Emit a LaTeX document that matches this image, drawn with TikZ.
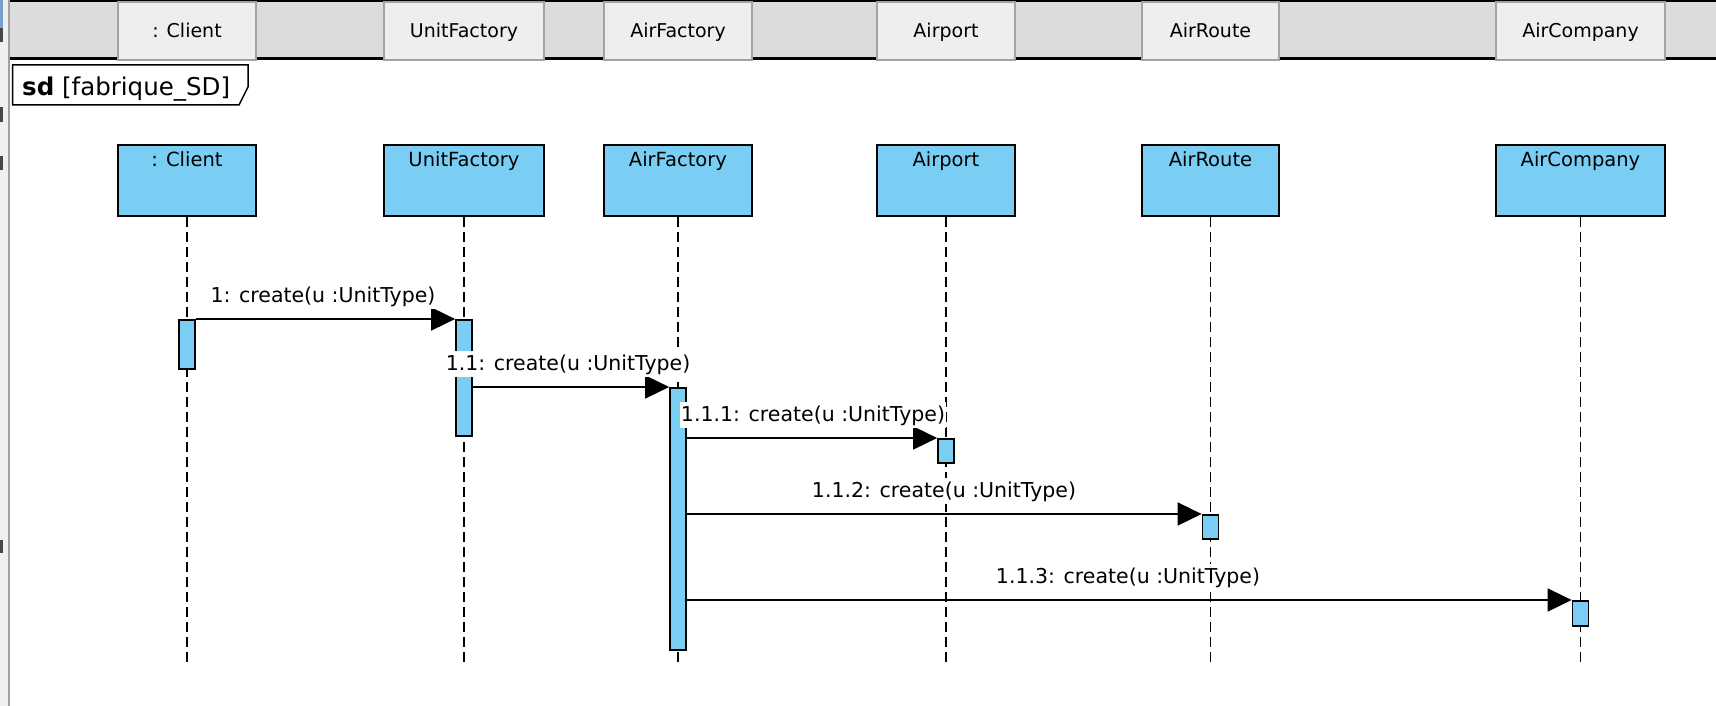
\documentclass[tikz,border=0pt]{standalone}
\usepackage{fontspec}
\setmainfont{DejaVu Sans}
\usetikzlibrary{arrows.meta}
\definecolor{umlblue}{RGB}{122,206,244}
\definecolor{barbg}{RGB}{220,220,220}
\definecolor{btnbg}{RGB}{238,238,238}
\definecolor{btnedge}{RGB}{163,163,163}
\definecolor{stripbg}{RGB}{239,239,239}
\definecolor{stripline}{RGB}{160,160,160}
\definecolor{markblue}{RGB}{120,160,205}
\definecolor{markdark}{RGB}{70,70,70}
\tikzset{
  btn/.style={rectangle, draw=btnedge, fill=btnbg, line width=2pt, inner sep=0pt, anchor=north west},
  btntext/.style={anchor=base, inner sep=0pt, font=\fontsize{19}{22}\selectfont},
  lifebox/.style={rectangle, draw=black, fill=umlblue, line width=1.9pt, inner sep=0pt, anchor=north west},
  boxtext/.style={anchor=base, inner sep=0pt, font=\fontsize{19.5}{22}\selectfont},
  lifeline/.style={draw=black, line width=1.5pt, dash pattern=on 10pt off 5pt},
  act/.style={rectangle, draw=black, fill=umlblue, line width=1.6pt, inner sep=0pt, minimum width=16pt, anchor=north},
  msg/.style={draw=black, line width=1.6pt, -{Triangle[length=24pt,width=23pt]}},
  msgtext/.style={anchor=base, fill=white, inner xsep=1pt, inner ysep=3pt, font=\fontsize{20.5}{24}\selectfont},
}
\begin{document}
\begin{tikzpicture}[x=1pt,y=-1pt]
\useasboundingbox (0,0) rectangle (1716,706);
\fill[white] (0,0) rectangle (1716,706);
% left strip
\fill[stripbg] (0,0) rectangle (8,706);
\fill[markblue] (0,0) rectangle (2.5,42);
\fill[markdark] (0,28) rectangle (2.5,42);
\fill[markdark] (0,107) rectangle (2.5,122);
\fill[markdark] (0,156) rectangle (2.5,170);
\fill[markdark] (0,540) rectangle (2.5,553);
\draw[stripline, line width=2pt] (8.5,0) -- (8.5,706);
% header bar
\fill[barbg] (9.5,0) rectangle (1716,58);
\draw[black, line width=2pt] (9.5,1) -- (1716,1);
\draw[black, line width=3pt] (9.5,58.5) -- (1716,58.5);
\node[btn, minimum width=138pt, minimum height=58pt] (hCl) at (117,1) {};
\node[btn, minimum width=160pt, minimum height=58pt] (hUF) at (383,1) {};
\node[btn, minimum width=148pt, minimum height=58pt] (hAF) at (603,1) {};
\node[btn, minimum width=138pt, minimum height=58pt] (hAP) at (876,1) {};
\node[btn, minimum width=137pt, minimum height=58pt] (hAR) at (1141,1) {};
\node[btn, minimum width=169pt, minimum height=58pt] (hAC) at (1495,1) {};
\node[btntext] (thCl) at (hCl.center |- 0,38) {: Client};
\node[btntext] (thUF) at (hUF.center |- 0,38) {UnitFactory};
\node[btntext] (thAF) at (hAF.center |- 0,38) {AirFactory};
\node[btntext] (thAP) at (hAP.center |- 0,38) {Airport};
\node[btntext] (thAR) at (hAR.center |- 0,38) {AirRoute};
\node[btntext] (thAC) at (hAC.center |- 0,38) {AirCompany};
% sd frame
\draw[black, line width=1.5pt, fill=white] (12.7,65) -- (248,65) -- (248,87) -- (239,105) -- (12.7,105) -- cycle;
\node[anchor=base west, inner sep=0pt, font=\fontsize{24.5}{28}\selectfont] (sd) at (22,96) {\textbf{sd} [fabrique\_SD]};
% lifeline heads
\node[lifebox, minimum width=138pt, minimum height=71pt] (bCl) at (117,144) {};
\node[lifebox, minimum width=160pt, minimum height=71pt] (bUF) at (383,144) {};
\node[lifebox, minimum width=148pt, minimum height=71pt] (bAF) at (603,144) {};
\node[lifebox, minimum width=138pt, minimum height=71pt] (bAP) at (876,144) {};
\node[lifebox, minimum width=137pt, minimum height=71pt] (bAR) at (1141,144) {};
\node[lifebox, minimum width=169pt, minimum height=71pt] (bAC) at (1495,144) {};
\node[boxtext] (tCl) at (bCl.center |- 0,166) {: Client};
\node[boxtext] (tUF) at (bUF.center |- 0,166) {UnitFactory};
\node[boxtext] (tAF) at (bAF.center |- 0,166) {AirFactory};
\node[boxtext] (tAP) at (bAP.center |- 0,166) {Airport};
\node[boxtext] (tAR) at (bAR.center |- 0,166) {AirRoute};
\node[boxtext] (tAC) at (bAC.center |- 0,166) {AirCompany};
% lifelines
\coordinate (lend) at (0,664);
\foreach \b in {bCl,bUF,bAF,bAP,bAR,bAC}{
  \draw[lifeline] (\b.south) -- (\b.south |- lend);
}
% activations
\node[act, minimum height=49pt] (aCl) at (bCl.south |- 0,319) {};
\node[act, minimum height=116pt] (aUF) at (bUF.south |- 0,319) {};
\node[act, minimum height=262pt] (aAF) at (bAF.south |- 0,387) {};
\node[act, minimum height=24pt] (aAP) at (bAP.south |- 0,438) {};
\node[act, minimum height=24pt] (aAR) at (bAR.south |- 0,514) {};
\node[act, minimum height=25pt] (aAC) at (bAC.south |- 0,600) {};
% messages
\draw[msg] (aCl.north east) -- (aUF.north west);
\draw[msg] (aUF.east |- aAF.north) -- (aAF.north west);
\draw[msg] (aAF.east |- aAP.north) -- (aAP.north west);
\draw[msg] (aAF.east |- aAR.north) -- (aAR.north west);
\draw[msg] (aAF.east |- aAC.north) -- (aAC.north west);
% message labels
\node[msgtext] (m1) at (323,302) {1: create(u :UnitType)};
\node[msgtext] (m11) at (568,370) {1.1: create(u :UnitType)};
\node[msgtext] (m111) at (813,421) {1.1.1: create(u :UnitType)};
\node[msgtext] (m112) at (944,497) {1.1.2: create(u :UnitType)};
\node[msgtext] (m113) at (1128,583) {1.1.3: create(u :UnitType)};
\end{tikzpicture}
\end{document}
